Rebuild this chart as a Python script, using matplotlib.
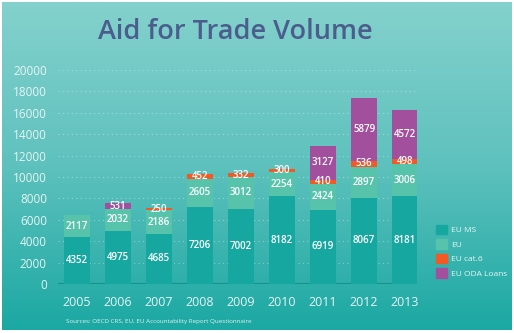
import numpy as np
import matplotlib.pyplot as plt
from matplotlib.colors import LinearSegmentedColormap
from matplotlib.patches import Patch

years = ["2005", "2006", "2007", "2008", "2009", "2010", "2011", "2012", "2013"]
eu_ms = [4352, 4975, 4685, 7206, 7002, 8182, 6919, 8067, 8181]
eu = [2117, 2032, 2186, 2605, 3012, 2254, 2424, 2897, 3006]
eu_cat6 = [0, 0, 250, 452, 332, 300, 410, 536, 498]
eu_loans = [0, 531, 0, 0, 0, 0, 3127, 5879, 4572]
yticks = [0, 2000, 4000, 6000, 8000, 10000, 12000, 14000, 16000, 18000, 20000]

series = [
    ("EU MS", eu_ms, "#17a7a1"),
    ("EU", eu, "#58c3ab"),
    ("EU cat.6", eu_cat6, "#f15a24"),
    ("EU ODA Loans", eu_loans, "#a24f9e"),
]

W, H = 514, 333
fig = plt.figure(figsize=(W / 100, H / 100), dpi=100)
fig.patch.set_facecolor("white")

# gradient background
bg = fig.add_axes([2 / W, 3 / H, 510 / W, 328 / H])
cmap = LinearSegmentedColormap.from_list("bg", ["#1ba8a3", "#5ec1bd", "#84d1cd"])
grad = np.linspace(0, 1, 256).reshape(-1, 1)
bg.imshow(grad, aspect="auto", cmap=cmap, origin="lower", extent=[0, 1, 0, 1])
bg.set_axis_off()

ax = fig.add_axes([58 / W, (H - 284) / H, 359 / W, 214 / H])
ax.patch.set_alpha(0)
x = np.arange(len(years))
bottom = np.zeros(len(years))
for name, vals, color in series:
    vals = np.array(vals, dtype=float)
    ax.bar(x, vals, 0.63, bottom=bottom, color=color, label=name, zorder=3)
    for xi, v, b in zip(x, vals, bottom):
        if v > 0:
            ax.text(xi, b + v / 2, str(int(v)), ha="center", va="center",
                    color="white", fontsize=7, fontweight="semibold",
                    family="Open Sans", zorder=4)
    bottom += vals

ax.set_xlim(-0.46, 8.29)
ax.set_ylim(0, 20000)
ax.set_yticks(yticks)
ax.set_xticks(x)
ax.set_xticklabels(years)
ax.tick_params(length=0, colors="#e6f5f3", labelsize=8.5, pad=8)
ax.tick_params(axis="x", pad=9, labelsize=9)
for lab in ax.get_xticklabels() + ax.get_yticklabels():
    lab.set_family("Open Sans")
ax.grid(axis="y", color="white", alpha=0.35, linestyle=(0, (1, 3)), linewidth=0.8, zorder=1)
for s in ax.spines.values():
    s.set_visible(False)
ax.axhline(0, color="#16918d", linewidth=1.5, zorder=2)

fig.text(235 / W, 1 - 32 / H, "Aid for Trade Volume", ha="center", va="center",
         fontsize=19.5, color="#4b5d8c", family="Open Sans", fontweight="semibold")
fig.text(66 / W, 1 - 321 / H, "Sources: OECD CRS, EU, EU Accountability Report Questionnaire",
         ha="left", va="center", fontsize=4.5, color="#dff2f0", family="Open Sans")

handles = [Patch(color=c, label=n) for n, _, c in series]
leg = fig.legend(handles=handles, loc="upper left", bbox_to_anchor=(428 / W, 1 - 217 / H),
                 frameon=False, handlelength=1.4, handleheight=1.4,
                 labelspacing=0.6, handletextpad=0.5, labelcolor="#e6f5f3",
                 prop={"family": "Open Sans", "size": 6})

fig.savefig("out.png", dpi=100)
